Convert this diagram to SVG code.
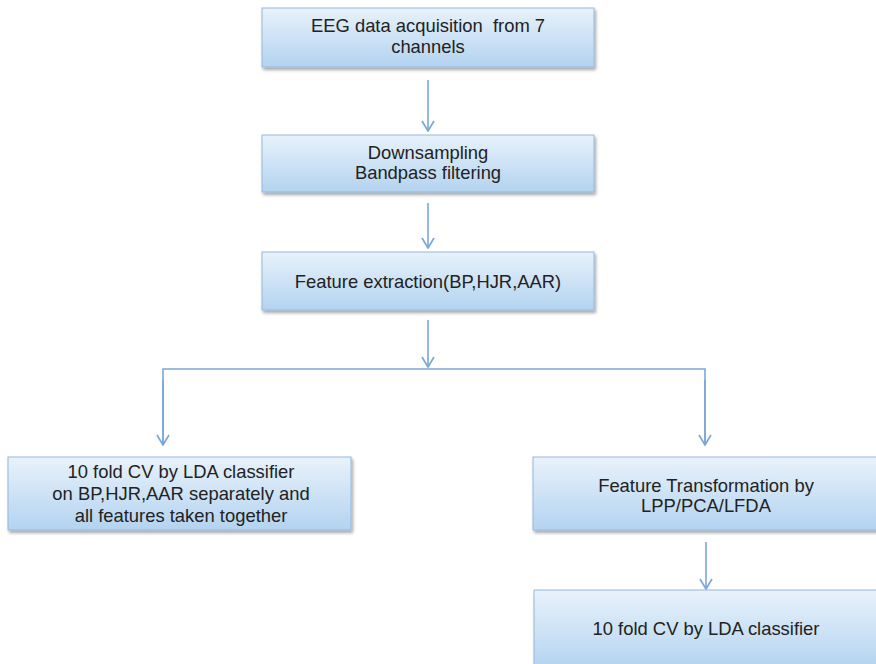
<svg xmlns="http://www.w3.org/2000/svg" width="876" height="664" viewBox="0 0 876 664">
<defs>
<linearGradient id="g" x1="0" y1="0" x2="0" y2="1">
<stop offset="0" stop-color="#e8f2fb"/>
<stop offset="1" stop-color="#b3d3f0"/>
</linearGradient>
<filter id="sh" x="-5%" y="-10%" width="112%" height="130%">
<feDropShadow dx="1.5" dy="2.5" stdDeviation="1.5" flood-color="#000" flood-opacity="0.35"/>
</filter>
<marker id="ah" viewBox="0 0 14 14" refX="13" refY="7" markerWidth="14" markerHeight="14" markerUnits="userSpaceOnUse" orient="auto">
<path d="M3,1 L13,7 L3,13" fill="none" stroke="#7aa7d8" stroke-width="1.7"/>
</marker>
</defs>
<style>
.box{fill:url(#g);stroke:#93b8dc;stroke-width:1;filter:url(#sh)}
.t{font-family:"Liberation Sans",Arial,sans-serif;font-size:18.4px;fill:#222;text-anchor:middle}
.c{fill:none;stroke:#7aa7d8;stroke-width:1.6}
</style>
<rect width="876" height="664" fill="#fff"/>
<g id="connectors">
<line class="c" x1="428" y1="80" x2="428" y2="131" marker-end="url(#ah)"/>
<line class="c" x1="428" y1="203" x2="428" y2="248" marker-end="url(#ah)"/>
<line class="c" x1="428" y1="320" x2="428" y2="367" marker-end="url(#ah)"/>
<polyline class="c" points="163,445 163,369 705,369 705,445"/>
<line class="c" x1="163" y1="380" x2="163" y2="445" marker-end="url(#ah)"/>
<line class="c" x1="705" y1="380" x2="705" y2="445" marker-end="url(#ah)"/>
<line class="c" x1="706" y1="542" x2="706" y2="589" marker-end="url(#ah)"/>
</g>
<g id="n1"><rect class="box" x="262" y="8" width="332" height="59"/>
<text class="t" x="428" y="32">EEG data acquisition&#160; from 7</text>
<text class="t" x="428" y="53">channels</text></g>
<g id="n2"><rect class="box" x="262" y="135" width="332" height="57"/>
<text class="t" x="428" y="159">Downsampling</text>
<text class="t" x="428" y="179">Bandpass filtering</text></g>
<g id="n3"><rect class="box" x="262" y="252" width="332" height="58"/>
<text class="t" x="428" y="288">Feature extraction(BP,HJR,AAR)</text></g>
<g id="n4"><rect class="box" x="8" y="457" width="343" height="73"/>
<text class="t" x="181" y="478">10 fold CV by LDA classifier</text>
<text class="t" x="181" y="500">on BP,HJR,AAR separately and</text>
<text class="t" x="181" y="522">all features taken together</text></g>
<g id="n5"><rect class="box" x="533" y="457" width="350" height="73"/>
<text class="t" x="706" y="492">Feature Transformation by</text>
<text class="t" x="706" y="512">LPP/PCA/LFDA</text></g>
<g id="n6"><rect class="box" x="534" y="590" width="350" height="80"/>
<text class="t" x="706" y="635">10 fold CV by LDA classifier</text></g>
</svg>
